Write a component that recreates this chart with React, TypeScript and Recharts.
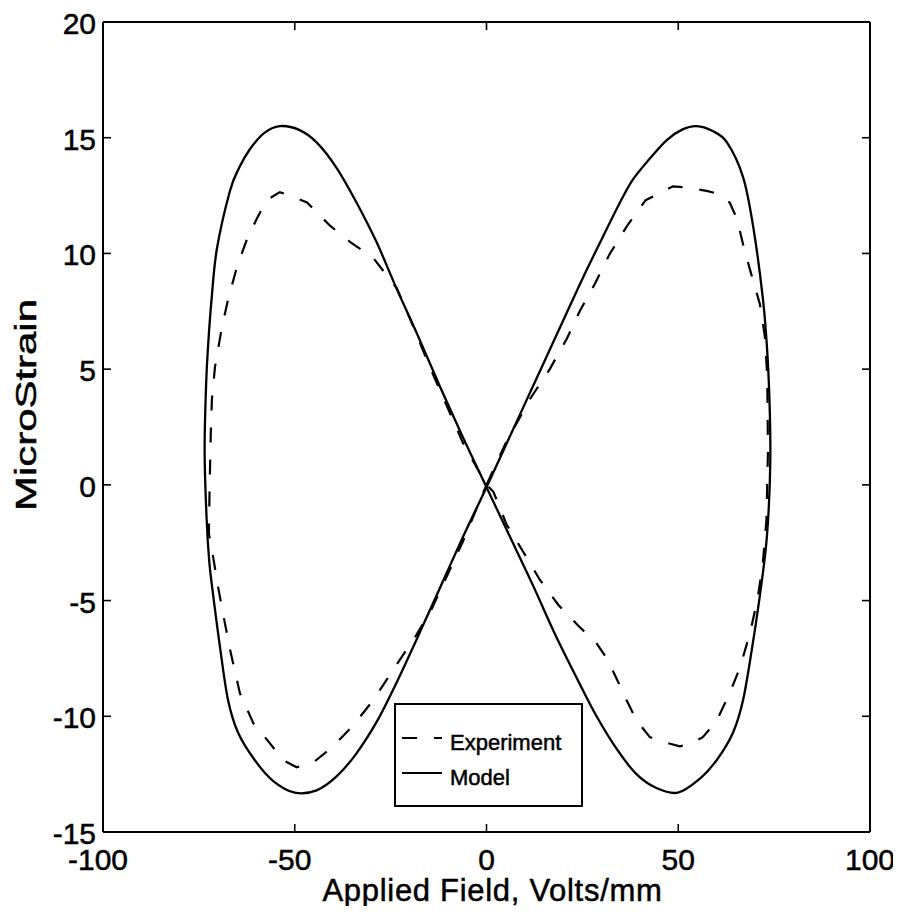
import React from 'react';
import { ComposedChart, Line, XAxis, YAxis, Legend, Label } from 'recharts';

const FONT = '"Liberation Sans", Arial, Helvetica, sans-serif';
const INK = 0.5; // slight outline that thickens the printed glyphs

// Axis ticks
const xTicks = [-100, -50, 0, 50, 100];
const yTicks = [-15, -10, -5, 0, 5, 10, 15, 20];

// Model loop (applied field in V/mm, strain in microstrain), in drawing order
const modelField = [
  0, 5.0, 10.0, 15.0, 20.0, 25.0, 30.0, 34.8, 38.2, 42.6, 47.0, 51.0, 54.8, 58.8, 62.7, 66.9, 69.5, 72.1, 73.3, 73.9,
  74.0, 73.6, 72.8, 71.1, 69.2, 66.9, 64.3, 60.0, 55.6, 49.9, 44.3, 39.1, 33.9, 28.7, 24.3, 18.0, 12.0, 6.0, 0,
  -6.0, -12.0, -18.3, -23.5, -28.7, -33.9, -39.1, -44.3, -49.0, -53.9, -58.0, -61.7, -64.5, -66.9, -70.3, -71.7, -72.6,
  -73.1, -73.5, -73.0, -72.3, -71.4, -69.5, -67.4, -64.8, -60.4, -55.6, -50.0, -44.3, -39.1, -33.9, -28.5, -23.9,
  -18.0, -12.0, -6.0, 0,
];
const modelStrain = [
  -0.1, 1.7, 3.5, 5.3, 7.1, 8.9, 10.6, 12.2, 13.2, 14.1, 14.9, 15.35, 15.5, 15.3, 14.8, 13.3, 11.2, 8.0, 5.5, 3.0,
  1.0, -1.0, -2.8, -5.0, -7.1, -9.3, -10.7, -11.9, -12.7, -13.3, -13.1, -12.5, -11.4, -10.0, -8.6, -6.5, -4.3, -2.2, -0.1,
  2.0, 4.2, 6.6, 8.5, 10.5, 12.2, 13.7, 14.8, 15.35, 15.5, 15.2, 14.5, 13.7, 12.7, 10.2, 8.0, 6.0,
  4.4, 1.5, -1.4, -3.3, -4.6, -7.0, -9.3, -10.7, -11.9, -12.8, -13.3, -13.2, -12.6, -11.6, -10.2, -8.7,
  -6.6, -4.4, -2.2, -0.1,
];

// Measured loop
const experimentField = [
  0, 5.0, 11.3, 16.5, 20.9, 24.3, 28.3, 32.2, 36.7, 41.5, 45.2, 48.6, 52.2, 57.4, 59.9, 63.4, 65.3, 66.9, 68.7,
  71.3, 72.6, 73.2, 73.4, 73.0, 72.0, 70.6, 68.7, 66.1, 63.4, 60.0, 56.4, 53.0, 50.4, 46.0, 42.6, 39.2, 36.5,
  34.0, 31.4, 28.5, 24.0, 18.8, 13.9, 9.6, 5.2, 1.8, 0,
  -6.1, -14.8, -20.0, -23.4, -29.5, -35.6, -40.8, -46.8, -51.3, -53.9, -57.3, -59.9, -62.5, -65.1, -67.4, -69.0,
  -70.8, -71.6, -71.9, -72.2, -72.4, -71.3, -70.0, -69.0, -66.9, -64.3, -60.8, -57.3, -53.0, -49.5, -45.2, -40.0,
  -34.8, -29.5, -24.0, -18.7, -14.4, -6.3, 0,
];
const experimentStrain = [
  0, 1.8, 3.7, 5.0, 6.3, 7.5, 8.7, 10.0, 11.2, 12.3, 12.6, 12.9, 12.85, 12.7, 12.6, 12.2, 11.5, 10.4, 9.3,
  7.8, 6.4, 4.7, 1.5, -1.5, -3.5, -5.0, -6.4, -7.9, -9.0, -10.2, -10.9, -11.2, -11.3, -11.1, -10.9, -10.2, -9.3,
  -8.4, -7.5, -6.8, -6.1, -5.2, -4.1, -2.9, -1.7, -0.3, 0,
  1.8, 5.1, 7.2, 8.5, 9.8, 10.5, 11.2, 12.2, 12.5, 12.65, 12.3, 11.5, 10.6, 9.4, 8.0, 6.8,
  5.1, 3.7, 2.2, -0.1, -2.1, -3.1, -4.4, -5.3, -7.1, -9.0, -10.3, -11.0, -11.9, -12.2, -12.0, -11.3,
  -10.4, -9.3, -7.9, -6.6, -5.4, -2.5, 0,
];

const toPoints = (xs: number[], ys: number[]) => xs.map((x, i) => ({ field: x, strain: ys[i] }));
const modelData = toPoints(modelField, modelStrain);
const experimentData = toPoints(experimentField, experimentStrain);

// Smooth Catmull-Rom path that wraps around when the point list closes on itself
const loopCurve = (context: any) => {
  let pts: number[][] = [];
  return {
    areaStart() {},
    areaEnd() {},
    lineStart() {
      pts = [];
    },
    point(x: number, y: number) {
      pts.push([+x, +y]);
    },
    lineEnd() {
      const n = pts.length;
      if (!n) return;
      const closed = n > 3 && Math.hypot(pts[0][0] - pts[n - 1][0], pts[0][1] - pts[n - 1][1]) < 0.5;
      const at = (i: number) => {
        if (i < 0) return closed ? pts[n - 2] : pts[0];
        if (i > n - 1) return closed ? pts[1] : pts[n - 1];
        return pts[i];
      };
      context.moveTo(pts[0][0], pts[0][1]);
      for (let i = 0; i < n - 1; i++) {
        const p0 = at(i - 1);
        const p1 = pts[i];
        const p2 = pts[i + 1];
        const p3 = at(i + 2);
        context.bezierCurveTo(
          p1[0] + (p2[0] - p0[0]) / 6,
          p1[1] + (p2[1] - p0[1]) / 6,
          p2[0] - (p3[0] - p1[0]) / 6,
          p2[1] - (p3[1] - p1[1]) / 6,
          p2[0],
          p2[1],
        );
      }
    },
  };
};

const TICK_LEN = 8;
const TICK_FONT = 30;

const BottomTick = (props: any) => {
  const { x, y, payload } = props;
  const v = payload.value;
  return (
    <g>
      <line x1={x} y1={y} x2={x} y2={y - TICK_LEN} stroke="#000" strokeWidth={1.6} />
      <text
        x={x + (v < 0 ? -5 : 0)}
        y={y + 38}
        textAnchor="middle"
        fontFamily={FONT}
        fontSize={TICK_FONT}
        fill="#000"
        stroke="#000"
        strokeWidth={INK}
      >
        {v}
      </text>
    </g>
  );
};

const TopTick = (props: any) => {
  const { x, y } = props;
  return <line x1={x} y1={y} x2={x} y2={y + TICK_LEN} stroke="#000" strokeWidth={1.6} />;
};

const LeftTick = (props: any) => {
  const { x, y, payload } = props;
  return (
    <g>
      <line x1={x} y1={y} x2={x + TICK_LEN} y2={y} stroke="#000" strokeWidth={1.6} />
      <text
        x={x - 7}
        y={y + 12}
        textAnchor="end"
        fontFamily={FONT}
        fontSize={TICK_FONT}
        fill="#000"
        stroke="#000"
        strokeWidth={INK}
      >
        {payload.value}
      </text>
    </g>
  );
};

const RightTick = (props: any) => {
  const { x, y } = props;
  return <line x1={x} y1={y} x2={x - TICK_LEN} y2={y} stroke="#000" strokeWidth={1.6} />;
};

const XTitle = (props: any) => {
  const vb = props.viewBox;
  return (
    <text
      x={vb.x + vb.width / 2 + 6}
      y={vb.y + 69}
      textAnchor="middle"
      fontFamily={FONT}
      fontSize={31}
      letterSpacing={0.7}
      fill="#000"
      stroke="#000"
      strokeWidth={INK}
    >
      Applied Field, Volts/mm
    </text>
  );
};

const YTitle = (props: any) => {
  const vb = props.viewBox;
  const cx = vb.x + 17;
  const cy = vb.y + vb.height / 2 - 22;
  return (
    <text
      x={cx}
      y={cy}
      transform={`rotate(-90 ${cx} ${cy})`}
      textAnchor="middle"
      dominantBaseline="central"
      fontFamily={FONT}
      fontSize={30}
      textLength={212}
      lengthAdjust="spacingAndGlyphs"
      fill="#000"
      stroke="#000"
      strokeWidth={INK}
    >
      MicroStrain
    </text>
  );
};

const LegendBox = (props: any) => {
  const items = props.payload ?? [];
  return (
    <div
      style={{
        width: 189,
        height: 104,
        boxSizing: 'border-box',
        border: '2px solid #000',
        background: '#fff',
      }}
    >
      <svg width={185} height={100} style={{ display: 'block' }}>
        {items.map((item: any, i: number) => {
          const cy = 33 + i * 35;
          return (
            <g key={item.value}>
              <line
                x1={6}
                y1={cy}
                x2={46}
                y2={cy}
                stroke="#000"
                strokeWidth={2}
                strokeDasharray={item.payload?.strokeDasharray}
              />
              <text
                x={54}
                y={cy + 12}
                fontFamily={FONT}
                fontSize={22}
                fill="#000"
                stroke="#000"
                strokeWidth={INK}
              >
                {item.value}
              </text>
            </g>
          );
        })}
      </svg>
    </div>
  );
};

export default function App() {
  return (
    <div style={{ width: 893, height: 906, marginBottom: -8 }}>
      <ComposedChart width={893} height={906} margin={{ top: 13, right: 30, bottom: 8, left: 0 }}>
        <XAxis
          xAxisId="bottom"
          dataKey="field"
          type="number"
          domain={[-100, 100]}
          ticks={xTicks}
          interval={0}
          height={74}
          tickSize={0}
          tickMargin={0}
          tick={<BottomTick />}
          axisLine={{ stroke: '#000', strokeWidth: 2 }}
          tickLine={false}
          allowDataOverflow
        >
          <Label content={<XTitle />} />
        </XAxis>
        <XAxis
          xAxisId="top"
          orientation="top"
          dataKey="field"
          type="number"
          domain={[-100, 100]}
          ticks={xTicks}
          interval={0}
          height={1}
          tickSize={0}
          tickMargin={0}
          tick={<TopTick />}
          axisLine={{ stroke: '#000', strokeWidth: 2 }}
          tickLine={false}
          allowDataOverflow
        />
        <YAxis
          yAxisId="left"
          dataKey="strain"
          type="number"
          domain={[-15, 20]}
          ticks={yTicks}
          interval={0}
          width={95}
          tickSize={0}
          tickMargin={0}
          tick={<LeftTick />}
          axisLine={{ stroke: '#000', strokeWidth: 2 }}
          tickLine={false}
          allowDataOverflow
        >
          <Label content={<YTitle />} />
        </YAxis>
        <YAxis
          yAxisId="right"
          orientation="right"
          dataKey="strain"
          type="number"
          domain={[-15, 20]}
          ticks={yTicks}
          interval={0}
          width={1}
          tickSize={0}
          tickMargin={0}
          tick={<RightTick />}
          axisLine={{ stroke: '#000', strokeWidth: 2 }}
          tickLine={false}
          allowDataOverflow
        />
        <Line
          name="Experiment"
          data={experimentData}
          xAxisId="bottom"
          yAxisId="left"
          dataKey="strain"
          type="linear"
          stroke="#000"
          strokeWidth={2.2}
          strokeDasharray="15 17"
          dot={false}
          activeDot={false}
          isAnimationActive={false}
        />
        <Line
          name="Model"
          data={modelData}
          xAxisId="bottom"
          yAxisId="left"
          dataKey="strain"
          type={loopCurve as any}
          stroke="#000"
          strokeWidth={2.3}
          dot={false}
          activeDot={false}
          isAnimationActive={false}
        />
        <Legend
          layout="vertical"
          align="center"
          verticalAlign="middle"
          content={<LegendBox />}
          wrapperStyle={{ left: 386, top: 695, width: 189, height: 104 }}
        />
      </ComposedChart>
    </div>
  );
}
